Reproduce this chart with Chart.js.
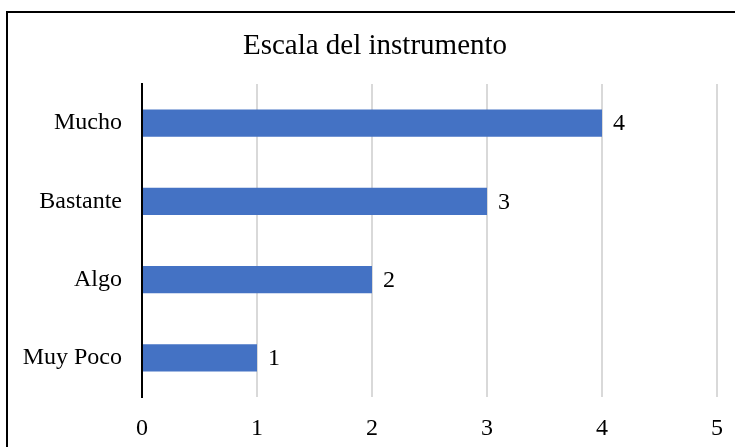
<!DOCTYPE html>
<html>
<head>
<meta charset="utf-8">
<script src="https://cdn.jsdelivr.net/npm/chart.js@4/dist/chart.umd.min.js"></script>
<style>
  body { margin: 0; background: #fff; }
  #wrap { width: 735px; height: 447px; position: relative; }
</style>
</head>
<body>
<div id="wrap"><canvas id="barChart"></canvas></div>
<script>
const categories = ['Mucho', 'Bastante', 'Algo', 'Muy Poco']
const values = [4, 3, 2, 1]
const xTicks = [0, 1, 2, 3, 4, 5]
const chartTitle = 'Escala del instrumento'

const serif = '"Times New Roman", "Liberation Serif", serif'

// frame + title; the chart object runs past the right edge so the title is centred a bit right
const framePlugin = {
    id: 'frame',
    beforeDraw(chart) {
        const ctx = chart.ctx
        ctx.save()
        ctx.fillStyle = '#fff'
        ctx.fillRect(0, 0, chart.width, chart.height)
        ctx.strokeStyle = '#000'
        ctx.lineWidth = 2
        ctx.strokeRect(7, 12, 2000, 2000)
        ctx.font = '29px ' + serif
        ctx.fillStyle = '#000'
        ctx.textAlign = 'center'
        ctx.textBaseline = 'alphabetic'
        ctx.fillText(chartTitle, 375, 54)
        ctx.restore()
    }
}

// value labels just past the end of each bar
const valueLabels = {
    id: 'valueLabels',
    afterDatasetsDraw(chart) {
        const ctx = chart.ctx
        const meta = chart.getDatasetMeta(0)
        ctx.save()
        ctx.font = '24px ' + serif
        ctx.fillStyle = '#000'
        ctx.textAlign = 'left'
        ctx.textBaseline = 'middle'
        meta.data.forEach(function (bar, i) {
            ctx.fillText(String(values[i]), bar.x + 11, bar.y + 1)
        })
        ctx.restore()
    }
}

new Chart(document.getElementById('barChart'), {
    type: 'bar',
    data: {
        labels: categories,
        datasets: [{
            data: values,
            backgroundColor: '#4472C4',
            barPercentage: 0.35,
            categoryPercentage: 1
        }]
    },
    options: {
        indexAxis: 'y',
        responsive: true,
        maintainAspectRatio: false,
        animation: false,
        layout: { padding: { left: 0, right: 18, top: 84, bottom: 0 } },
        plugins: {
            legend: { display: false },
            tooltip: { enabled: false },
            title: { display: false }
        },
        scales: {
            x: {
                min: 0,
                max: 5,
                afterBuildTicks(scale) {
                    scale.ticks = xTicks.map(v => ({ value: v }))
                },
                afterFit(scale) {
                    scale.height = 50
                    scale.paddingLeft = 0
                    scale.paddingRight = 0
                },
                grid: {
                    color: ctx => (ctx.tick && ctx.tick.value === 0) ? '#000' : '#d9d9d9',
                    lineWidth: 2,
                    drawTicks: false
                },
                border: { display: false },
                ticks: {
                    color: '#000',
                    padding: 17,
                    font: { family: serif, size: 24 }
                }
            },
            y: {
                afterFit(scale) { scale.width = 142 },
                grid: { display: true, color: 'transparent', drawTicks: false },
                border: { display: true, color: '#000', width: 2 },
                ticks: {
                    color: '#000',
                    padding: 20,
                    font: { family: serif, size: 24 }
                }
            }
        }
    },
    plugins: [framePlugin, valueLabels]
})
</script>
</body>
</html>
